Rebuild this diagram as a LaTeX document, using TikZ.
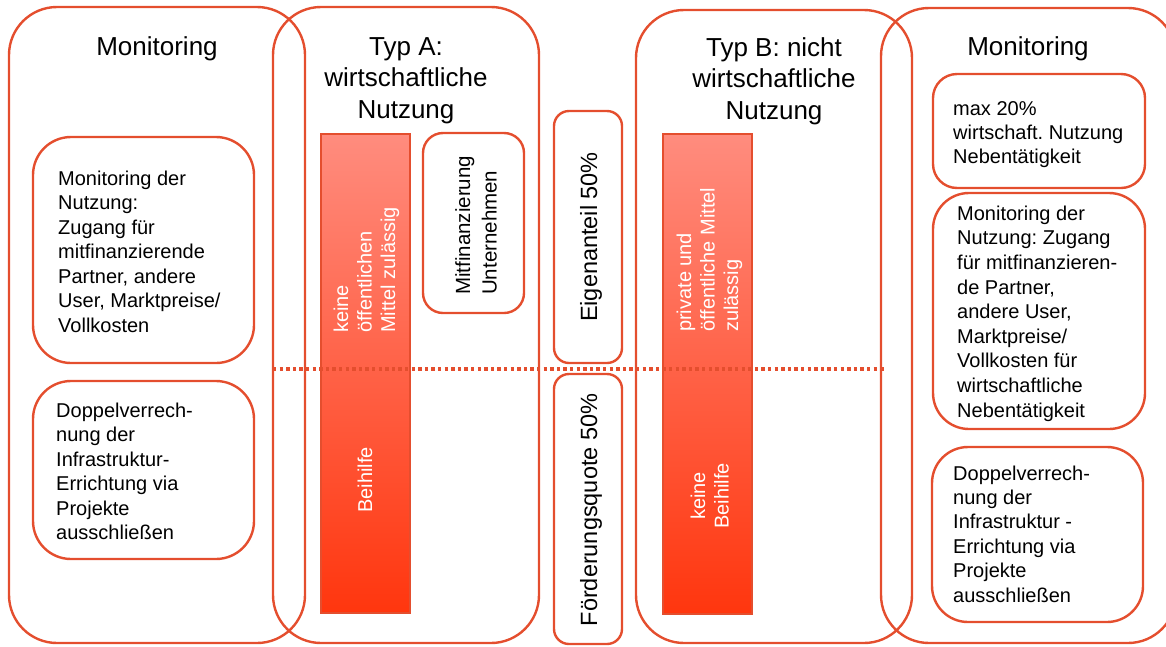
\documentclass[tikz,border=0pt]{standalone}
\usepackage{fontspec}
\setmainfont{Liberation Sans}
\frenchspacing
\definecolor{edge}{RGB}{228,78,46}
\definecolor{bartop}{RGB}{255,140,126}
\definecolor{barmid}{RGB}{255,112,94}
\definecolor{barbot}{RGB}{255,54,14}
\tikzset{
  bigbox/.style={draw=edge, line width=2.4pt, rounded corners=48pt, inner sep=0pt},
  smallbox/.style={draw=edge, line width=2.4pt, inner sep=0pt},
  redbar/.style={draw=edge, line width=1.2pt, inner sep=0pt, top color=bartop, middle color=barmid, bottom color=barbot},
  titletxt/.style={align=center, inner sep=0pt, font=\fontsize{26}{31.5}\selectfont},
  bodytxt/.style={align=left, inner sep=0pt, anchor=base west, font=\fontsize{20}{24.5}\selectfont},
  bartxt/.style={rotate=90, inner sep=0pt, text=white, font=\fontsize{20}{23.5}\selectfont},
  sidetxt/.style={rotate=90, inner sep=0pt, anchor=base, font=\fontsize{23.5}{28}\selectfont},
  dotline/.style={draw=edge, line width=3.2pt, dash pattern=on 3.4pt off 3.2pt}
}
\begin{document}
\begin{tikzpicture}[x=1pt,y=-1pt]
\useasboundingbox (0,0) rectangle (1166,646);
% big columns
\node[bigbox, minimum width=296pt, minimum height=636pt] (monL) at (157,325) {};
\node[bigbox, minimum width=266pt, minimum height=636pt] (typA) at (406,325) {};
\node[bigbox, minimum width=276pt, minimum height=633pt] (typB) at (774,326.5) {};
\node[bigbox, minimum width=295pt, minimum height=635pt] (monR) at (1028.5,325.5) {};
% left inner boxes
\node[smallbox, rounded corners=38pt, minimum width=221pt, minimum height=226pt] (l1) at (143.5,250) {};
\node[smallbox, rounded corners=38pt, minimum width=221pt, minimum height=178pt] (l2) at (143.5,470) {};
% red bars
\node[redbar, minimum width=89pt, minimum height=479pt] (barA) at (365.5,373.5) {};
\node[redbar, minimum width=89pt, minimum height=480pt] (barB) at (707.5,374) {};
% Typ A small box
\node[smallbox, rounded corners=20pt, minimum width=101pt, minimum height=180pt] (mit) at (473.5,223) {};
% middle boxes
\node[smallbox, rounded corners=15pt, minimum width=68pt, minimum height=252pt] (eig) at (588,237) {};
\node[smallbox, rounded corners=15pt, minimum width=68pt, minimum height=270pt] (foe) at (588,509) {};
% right inner boxes
\node[smallbox, rounded corners=24pt, minimum width=212pt, minimum height=114pt] (r1) at (1039,131) {};
\node[smallbox, rounded corners=36pt, minimum width=212pt, minimum height=236pt] (r2) at (1039,311) {};
\node[smallbox, rounded corners=36pt, minimum width=211pt, minimum height=175pt] (r3) at (1037.5,534.5) {};
% dotted divider
\coordinate (dl) at (273,369);
\coordinate (dr) at (885,369);
\draw[dotline] (dl) -- (dr);
% titles (anchor base = baseline of last line)
\node[titletxt, anchor=base] (tMonL) at (157,55) {Monitoring};
\node[titletxt, anchor=base] (tA) at (406,118) {Typ A:\\wirtschaftliche\\Nutzung};
\node[titletxt, anchor=base] (tB) at (774,119) {Typ B: nicht\\wirtschaftliche\\Nutzung};
\node[titletxt, anchor=base] (tMonR) at (1028,55) {Monitoring};
% left texts
\node[bodytxt] (txl1) at (58,332) {Monitoring der\\Nutzung:\\Zugang für\\mitfinanzierende\\Partner, andere\\User, Marktpreise/\\Vollkosten};
\node[bodytxt] (txl2) at (56,539.5) {Doppelverrech-\\nung der\\Infrastruktur-\\Errichtung via\\Projekte\\ausschließen};
% right texts
\node[bodytxt, font=\fontsize{20}{24}\selectfont] (txr1) at (953,163) {max 20\%\\wirtschaft. Nutzung\\Nebentätigkeit};
\node[bodytxt, font=\fontsize{20}{24.6}\selectfont] (txr2) at (957,417) {Monitoring der\\Nutzung: Zugang\\für mitfinanzieren-\\de Partner,\\andere User,\\Marktpreise/\\Vollkosten für\\wirtschaftliche\\Nebentätigkeit};
\node[bodytxt, font=\fontsize{20}{24.4}\selectfont] (txr3) at (953,602) {Doppelverrech-\\nung der\\Infrastruktur -\\Errichtung via\\Projekte\\ausschließen};
% bar texts
\node[bartxt, align=left, anchor=base west] (txa1) at (395,333) {keine\\öffentlichen\\Mittel zulässig};
\node[bartxt, anchor=base] (txa2) at (372,480) {Beihilfe};
\node[bartxt, align=left, anchor=base west] (txb1) at (738,332) {private und\\öffentliche Mittel\\zulässig};
\node[bartxt, align=center, anchor=base] (txb2) at (728.5,496) {keine\\Beihilfe};
% rotated box texts
\node[rotate=90, inner sep=0pt, align=left, anchor=base west, font=\fontsize{20.5}{26.5}\selectfont] (txm) at (496.5,295) {Mitfinanzierung\\Unternehmen};
\node[sidetxt] (txe) at (597,237) {Eigenanteil 50\%};
\node[sidetxt] (txf) at (597,510) {Förderungsquote 50\%};
\end{tikzpicture}
\end{document}
